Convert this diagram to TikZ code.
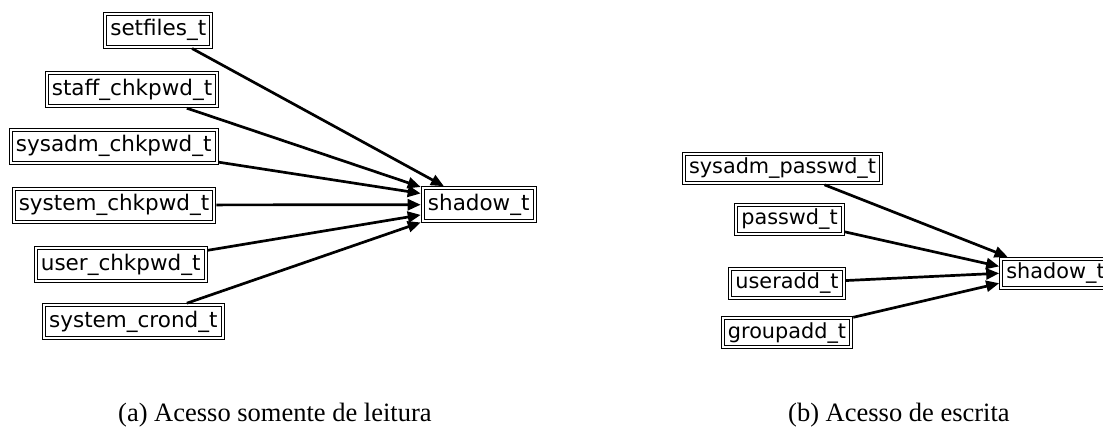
\documentclass[tikz,border=0pt]{standalone}
\usepackage{fontspec}
\setmainfont{Liberation Serif}
\newfontfamily\boxfont{DejaVu Sans}
\usetikzlibrary{arrows.meta}
\tikzset{
  typebox/.style={draw=black, double=white, line width=1pt, double distance=2pt,
    inner xsep=5.2pt, inner ysep=0pt, outer sep=2pt, fill=white},
  leftbox/.style={typebox, minimum height=33pt, font=\boxfont\fontsize{21.5}{24}\selectfont},
  rightbox/.style={typebox, minimum height=29pt, font=\boxfont\fontsize{20.8}{23}\selectfont},
  arr/.style={line width=2.7pt, -{Triangle[length=13pt,width=11pt]}},
  caption/.style={font=\fontsize{26.5}{30}\selectfont, anchor=base west, inner sep=0pt}
}
\begin{document}
\begin{tikzpicture}[x=1pt,y=-1pt]
\useasboundingbox (0,0) rectangle (1103,426);
% left diagram
\node[leftbox] (setfiles) at (158.3,30) {setfiles\_t};
\node[leftbox] (staff) at (132,89.7) {staff\_chkpwd\_t};
\node[leftbox] (sysadmchk) at (113.7,146) {sysadm\_chkpwd\_t};
\node[leftbox] (systemchk) at (114,205) {system\_chkpwd\_t};
\node[leftbox] (userchk) at (120.7,264.7) {user\_chkpwd\_t};
\node[leftbox] (crond) at (133.3,321.7) {system\_crond\_t};
\node[leftbox] (shadowa) at (478.7,204.7) {shadow\_t};
\draw[arr] (setfiles) -- (shadowa.152);
\draw[arr] (staff) -- (shadowa.163);
\draw[arr] (sysadmchk) -- (shadowa.169);
\draw[arr] (systemchk) -- (shadowa.west);
\draw[arr] (userchk) -- (shadowa.190);
\draw[arr] (crond) -- (shadowa.197);
% right diagram
\node[rightbox] (sysadmpw) at (782.5,168.3) {sysadm\_passwd\_t};
\node[rightbox] (passwd) at (789.5,219.5) {passwd\_t};
\node[rightbox] (useradd) at (787,283.3) {useradd\_t};
\node[rightbox] (groupadd) at (787,332.7) {groupadd\_t};
\node[rightbox] (shadowb) at (1055.5,273.3) {shadow\_t};
\draw[arr] (sysadmpw) -- (shadowb.161);
\draw[arr] (passwd) -- (shadowb.173);
\draw[arr] (useradd) -- (shadowb.west);
\draw[arr] (groupadd) -- (shadowb.190);
% captions
\node[caption] (capa) at (118,421) {(a) Acesso somente de leitura};
\node[caption] (capb) at (788,421) {(b) Acesso de escrita};
\end{tikzpicture}
\end{document}
